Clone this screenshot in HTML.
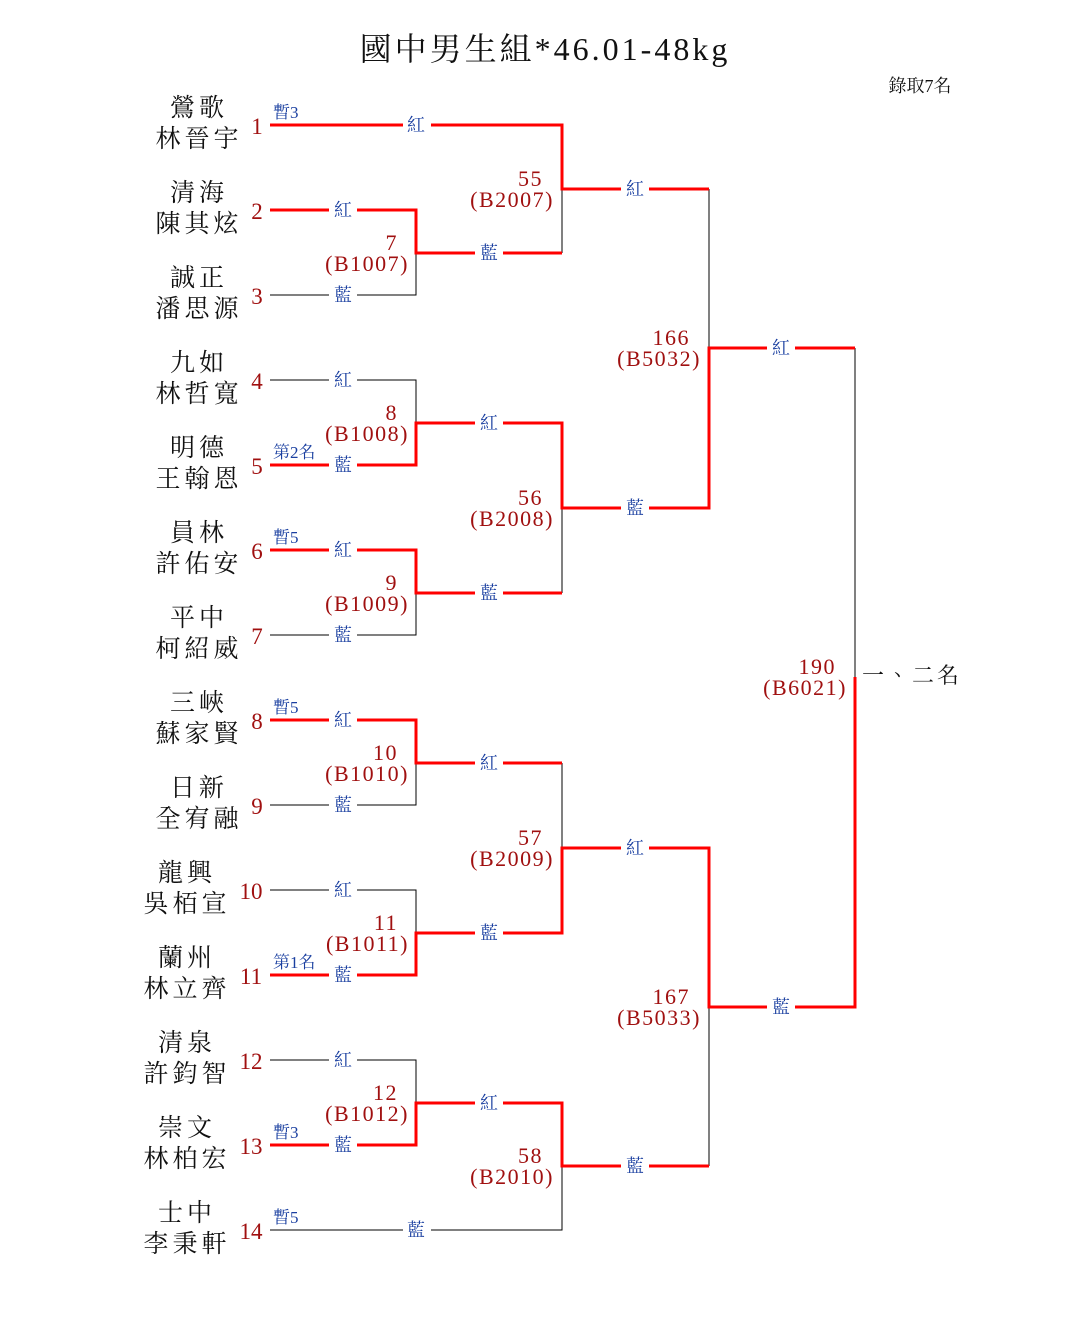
<!DOCTYPE html>
<html><head><meta charset="utf-8"><style>
body{margin:0;background:#fff}
text{font-family:"Liberation Serif","Noto Serif CJK TC","Noto Serif CJK SC",serif}
.nm{font-size:25px;fill:#111;text-anchor:middle;letter-spacing:4px}
.no{font-size:23px;fill:#a01010;text-anchor:middle}
.mt{font-size:22px;fill:#a01010;text-anchor:end;letter-spacing:1.5px}
.lb{font-size:18px;fill:#1a3fa0;text-anchor:middle}
.nt{font-size:17px;fill:#1a3fa0}
.r{stroke:#f00;stroke-width:3;fill:none}
.k{stroke:#000;stroke-width:1;fill:none}
</style></head><body>
<svg width="1085" height="1315" xmlns="http://www.w3.org/2000/svg">
<text x="545" y="60" style="font-size:32px;text-anchor:middle;fill:#111;letter-spacing:3px">國中男生組*46.01-48kg</text>
<text x="920" y="92" style="font-size:18px;text-anchor:middle;fill:#111">錄取7名</text>

<g class="k">
<path d="M270 295H416V253"/>
<path d="M270 380H416V423"/>
<path d="M270 635H416V593"/>
<path d="M270 805H416V763"/>
<path d="M270 890H416V933"/>
<path d="M270 1060H416V1103"/>
<path d="M270 1230H562V1166"/>
<path d="M562 189V253"/>
<path d="M562 508V593"/>
<path d="M562 763V848"/>
<path d="M709 189V348"/>
<path d="M709 1007V1166"/>
<path d="M855 348V677"/>
</g>
<g class="r">
<path d="M270 125H562V189H709"/>
<path d="M270 210H416V253H562"/>
<path d="M270 465H416V423H562V508H709V348H855"/>
<path d="M270 550H416V593H562"/>
<path d="M270 720H416V763H562"/>
<path d="M270 975H416V933H562V848H709V1007H855V677"/>
<path d="M270 1145H416V1103H562V1166H709"/>
</g>

<g>
<g fill="#fff">
<rect x="403" y="113" width="28" height="22"/>
<rect x="329" y="198" width="28" height="22"/><rect x="329" y="283" width="28" height="22"/>
<rect x="329" y="368" width="28" height="22"/><rect x="329" y="453" width="28" height="22"/>
<rect x="329" y="538" width="28" height="22"/><rect x="329" y="623" width="28" height="22"/>
<rect x="329" y="708" width="28" height="22"/><rect x="329" y="793" width="28" height="22"/>
<rect x="329" y="878" width="28" height="22"/><rect x="329" y="963" width="28" height="22"/>
<rect x="329" y="1048" width="28" height="22"/><rect x="329" y="1133" width="28" height="22"/>
<rect x="403" y="1218" width="28" height="22"/>
<rect x="475" y="241" width="28" height="22"/><rect x="475" y="411" width="28" height="22"/>
<rect x="475" y="581" width="28" height="22"/><rect x="475" y="751" width="28" height="22"/>
<rect x="475" y="921" width="28" height="22"/><rect x="475" y="1091" width="28" height="22"/>
<rect x="621" y="177" width="28" height="22"/><rect x="621" y="496" width="28" height="22"/>
<rect x="621" y="836" width="28" height="22"/><rect x="621" y="1154" width="28" height="22"/>
<rect x="767" y="336" width="28" height="22"/><rect x="767" y="995" width="28" height="22"/>
</g>
<text class="lb" x="416" y="131">紅</text>
<text class="lb" x="343" y="216">紅</text><text class="lb" x="343" y="301">藍</text>
<text class="lb" x="343" y="386">紅</text><text class="lb" x="343" y="471">藍</text>
<text class="lb" x="343" y="556">紅</text><text class="lb" x="343" y="641">藍</text>
<text class="lb" x="343" y="726">紅</text><text class="lb" x="343" y="811">藍</text>
<text class="lb" x="343" y="896">紅</text><text class="lb" x="343" y="981">藍</text>
<text class="lb" x="343" y="1066">紅</text><text class="lb" x="343" y="1151">藍</text>
<text class="lb" x="416" y="1236">藍</text>
<text class="lb" x="489" y="259">藍</text><text class="lb" x="489" y="429">紅</text>
<text class="lb" x="489" y="599">藍</text><text class="lb" x="489" y="769">紅</text>
<text class="lb" x="489" y="939">藍</text><text class="lb" x="489" y="1109">紅</text>
<text class="lb" x="635" y="195">紅</text><text class="lb" x="635" y="514">藍</text>
<text class="lb" x="635" y="854">紅</text><text class="lb" x="635" y="1172">藍</text>
<text class="lb" x="781" y="354">紅</text><text class="lb" x="781" y="1013">藍</text>
</g>

<g class="mt">
<text x="398" y="250">7</text><text x="409" y="271">(B1007)</text>
<text x="398" y="420">8</text><text x="409" y="441">(B1008)</text>
<text x="398" y="590">9</text><text x="409" y="611">(B1009)</text>
<text x="398" y="760">10</text><text x="409" y="781">(B1010)</text>
<text x="398" y="930">11</text><text x="409" y="951">(B1011)</text>
<text x="398" y="1100">12</text><text x="409" y="1121">(B1012)</text>
<text x="543" y="186">55</text><text x="554" y="207">(B2007)</text>
<text x="543" y="505">56</text><text x="554" y="526">(B2008)</text>
<text x="543" y="845">57</text><text x="554" y="866">(B2009)</text>
<text x="543" y="1163">58</text><text x="554" y="1184">(B2010)</text>
<text x="690" y="345">166</text><text x="701" y="366">(B5032)</text>
<text x="690" y="1004">167</text><text x="701" y="1025">(B5033)</text>
<text x="836" y="674">190</text><text x="847" y="695">(B6021)</text>
</g>
<text x="912" y="683" style="font-size:22px;fill:#111;text-anchor:middle;letter-spacing:3px">一、二名</text>

<g class="nt">
<text x="273" y="118">暫3</text>
<text x="273" y="458">第2名</text>
<text x="273" y="543">暫5</text>
<text x="273" y="713">暫5</text>
<text x="273" y="968">第1名</text>
<text x="273" y="1138">暫3</text>
<text x="273" y="1223">暫5</text>
</g>

<g class="no">
<text x="257" y="134">1</text><text x="257" y="219">2</text><text x="257" y="304">3</text>
<text x="257" y="389">4</text><text x="257" y="474">5</text><text x="257" y="559">6</text>
<text x="257" y="644">7</text><text x="257" y="729">8</text><text x="257" y="814">9</text>
<text x="251" y="899">10</text><text x="251" y="984">11</text><text x="251" y="1069">12</text>
<text x="251" y="1154">13</text><text x="251" y="1239">14</text>
</g>

<g class="nm">
<text x="199" y="116">鶯歌</text><text x="199" y="147">林晉宇</text>
<text x="199" y="201">清海</text><text x="199" y="232">陳其炫</text>
<text x="199" y="286">誠正</text><text x="199" y="317">潘思源</text>
<text x="199" y="371">九如</text><text x="199" y="402">林哲寬</text>
<text x="199" y="456">明德</text><text x="199" y="487">王翰恩</text>
<text x="199" y="541">員林</text><text x="199" y="572">許佑安</text>
<text x="199" y="626">平中</text><text x="199" y="657">柯紹威</text>
<text x="199" y="711">三峽</text><text x="199" y="742">蘇家賢</text>
<text x="199" y="796">日新</text><text x="199" y="827">全宥融</text>
<text x="187" y="881">龍興</text><text x="187" y="912">吳栢宣</text>
<text x="187" y="966">蘭州</text><text x="187" y="997">林立齊</text>
<text x="187" y="1051">清泉</text><text x="187" y="1082">許鈞智</text>
<text x="187" y="1136">崇文</text><text x="187" y="1167">林柏宏</text>
<text x="187" y="1221">士中</text><text x="187" y="1252">李秉軒</text>
</g>
</svg>
</body></html>
